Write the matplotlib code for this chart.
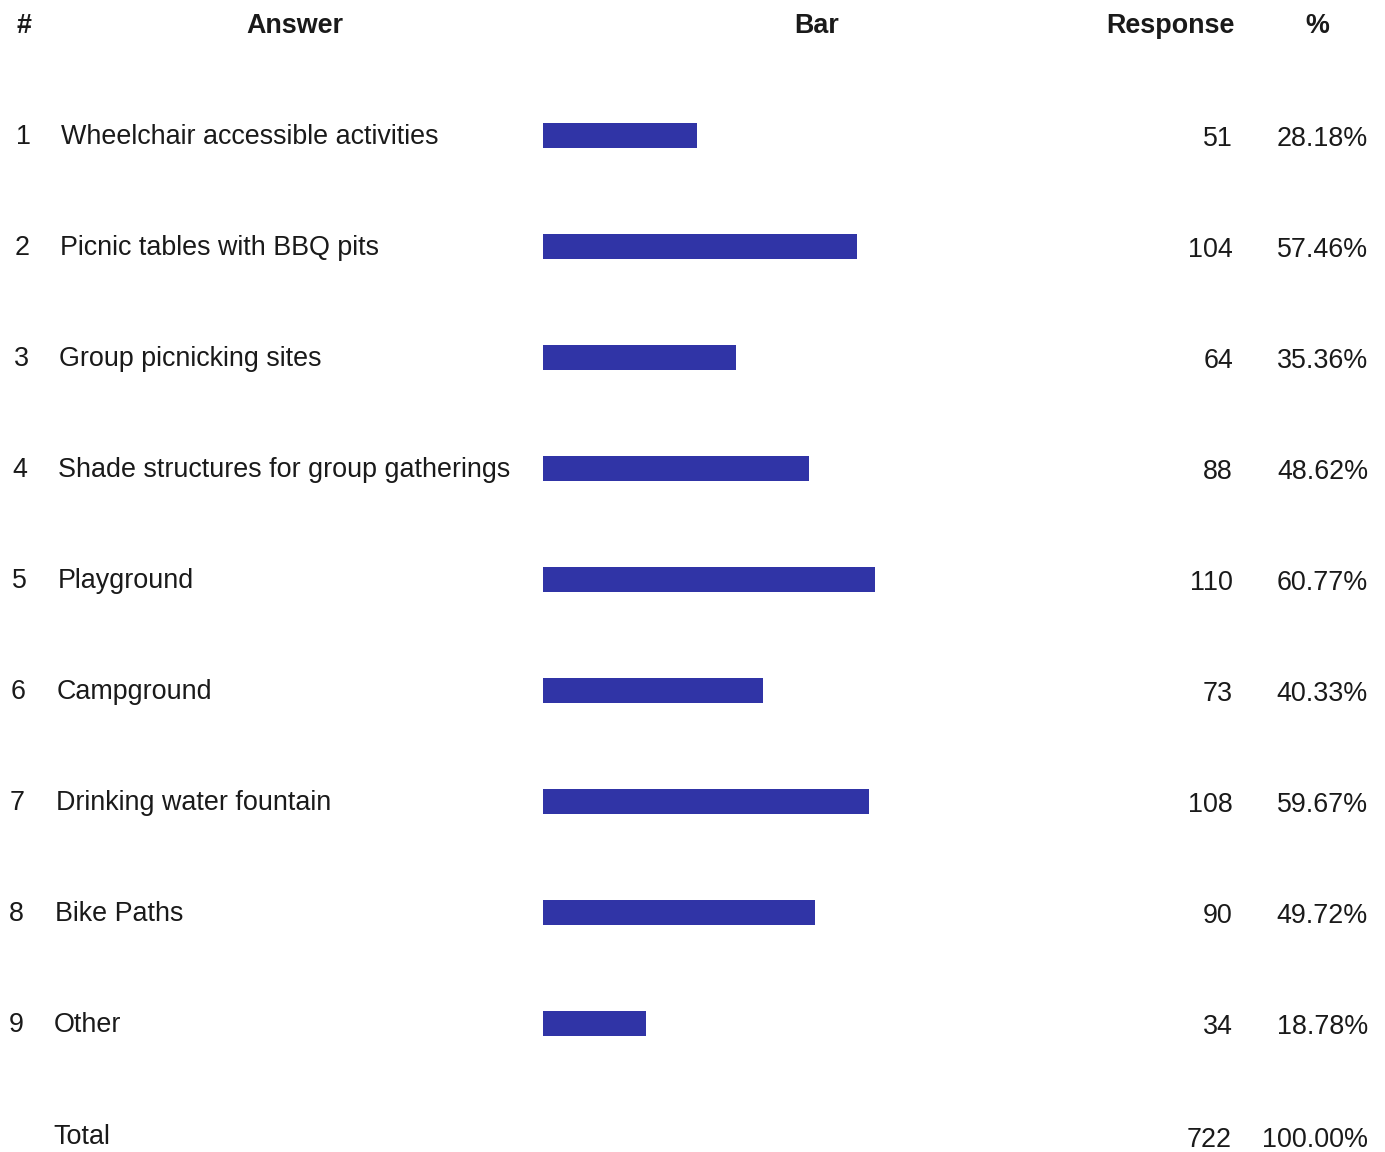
import matplotlib
matplotlib.use("Agg")
import matplotlib.pyplot as plt

answers = ["Wheelchair accessible activities", "Picnic tables with BBQ pits",
           "Group picnicking sites", "Shade structures for group gatherings",
           "Playground", "Campground", "Drinking water fountain", "Bike Paths", "Other"]
responses = [51, 104, 64, 88, 110, 73, 108, 90, 34]
percents = ["28.18%", "57.46%", "35.36%", "48.62%", "60.77%", "40.33%", "59.67%", "49.72%", "18.78%"]
headers = ["#", "Answer", "Bar", "Response", "%"]
total_label = "Total"
total_response = 722
total_percent = "100.00%"

W, H = 1385, 1152
plt.rcParams['font.family'] = ['Liberation Sans', 'DejaVu Sans']
fig = plt.figure(figsize=(W / 100, H / 100), dpi=100)
fig.patch.set_facecolor("white")

# Row geometry (pixels)
y0, dy = 135, 111
n = len(answers)

# Bar axes
bar_left = 543
ax = fig.add_axes([bar_left / W, 0, (W - bar_left) / W, 1])
top = -y0 / dy
bottom = (H - y0) / dy
ax.set_ylim(bottom, top)
ax.set_xlim(0, (W - bar_left) / 3.02)
ax.barh(range(n), responses, height=25 / dy, color="#3034a6", edgecolor="none", left=0)
ax.axis("off")

# Text overlay
tx = fig.add_axes([0, 0, 1, 1], facecolor="none")
tx.set_xlim(0, W)
tx.set_ylim(H, 0)
tx.axis("off")

fs = 19.4
hy = 26
hx = [24, 295, 817, 1170, 1317]
for h, x in zip(headers, hx):
    tx.text(x, hy, h, ha="center", va="center", fontsize=fs, fontweight="bold", color="#1a1a1a")

for i in range(n):
    y = y0 + dy * i + 2
    drift = -0.9 * i
    tx.text(23 + drift, y, str(i + 1), ha="center", va="center", fontsize=fs, color="#1a1a1a")
    tx.text(61 + drift, y, answers[i], ha="left", va="center", fontsize=fs, color="#1a1a1a")
    tx.text(1233, y + 2, str(responses[i]), ha="right", va="center", fontsize=fs, color="#1a1a1a")
    tx.text(1368, y + 2, percents[i], ha="right", va="center", fontsize=fs, color="#1a1a1a")

ty = y0 + dy * n + 3
tx.text(53, ty, total_label, ha="left", va="center", fontsize=fs, color="#1a1a1a")
tx.text(1232, ty + 3, str(total_response), ha="right", va="center", fontsize=fs, color="#1a1a1a")
tx.text(1368, ty + 3, total_percent, ha="right", va="center", fontsize=fs, color="#1a1a1a")

fig.savefig("out.png", dpi=100, facecolor="white")
